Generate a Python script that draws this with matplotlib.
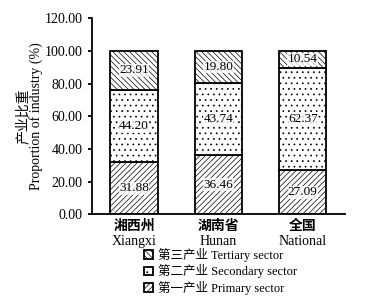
import matplotlib
matplotlib.use('Agg')
from matplotlib import pyplot as plt
from matplotlib.transforms import blended_transform_factory

regions_cn = ['湘西州', '湖南省', '全国']
regions_en = ['Xiangxi', 'Hunan', 'National']
primary = [31.88, 36.46, 27.09]
secondary = [44.20, 43.74, 62.37]
tertiary = [23.91, 19.80, 10.54]

sector_names = ['第三产业 Tertiary sector', '第二产业 Secondary sector', '第一产业 Primary sector']

plt.rcParams['font.family'] = ['Liberation Serif', 'Noto Sans CJK SC']
plt.rcParams['hatch.linewidth'] = 0.5
plt.rcParams['hatch.color'] = '#333333'

fig = plt.figure(figsize=(3.67, 3.02), dpi=100)
ax = fig.add_axes([0.25, 0.29, 0.69, 0.65])

x = list(range(len(regions_cn)))
w = 0.56
b1 = ax.bar(x, primary, w, color='white', edgecolor='black', hatch='//////', lw=1.3)
bottom2 = primary
b2 = ax.bar(x, secondary, w, bottom=bottom2, color='white', edgecolor='black', hatch='...', lw=1.3)
bottom3 = [p + s for p, s in zip(primary, secondary)]
b3 = ax.bar(x, tertiary, w, bottom=bottom3, color='white', edgecolor='black', hatch='\\\\\\\\\\\\', lw=1.3)

box = dict(facecolor='white', edgecolor='none', pad=0.3, alpha=0.8)
for i in x:
    ax.text(i, primary[i] / 2, f'{primary[i]:.2f}', ha='center', va='center', fontsize=9.5, bbox=box)
    ax.text(i, bottom2[i] + secondary[i] / 2, f'{secondary[i]:.2f}', ha='center', va='center', fontsize=9.5, bbox=box)
    ax.text(i, bottom3[i] + tertiary[i] / 2, f'{tertiary[i]:.2f}', ha='center', va='center', fontsize=9.5, bbox=box)

ax.set_ylim(0, 120)
ax.set_xlim(-0.5, 2.5)
ax.set_yticks([0, 20, 40, 60, 80, 100, 120])
ax.set_yticklabels([f'{v:.2f}' for v in [0, 20, 40, 60, 80, 100, 120]], fontsize=10)
ax.set_xticks(x)
ax.set_xticklabels(regions_cn, fontsize=10, fontweight='bold', family=['Noto Sans CJK SC'])
ax.tick_params(axis='x', length=0, pad=3.5)
ax.tick_params(axis='y', direction='out', length=3, width=1.3)
trans = blended_transform_factory(ax.transData, ax.transAxes)
for i in x:
    ax.annotate(regions_en[i], (i, 0), xycoords=trans, xytext=(0, -14.5), textcoords='offset points',
                ha='center', va='top', fontsize=10)
ax.spines['top'].set_visible(False)
ax.spines['right'].set_visible(False)
ax.spines['left'].set_linewidth(1.3)
ax.spines['bottom'].set_linewidth(1.3)
ax.set_ylabel('产业比重\nProportion of industry (%)', fontsize=10, linespacing=0.95, labelpad=1)

handles = [b3[0], b2[0], b1[0]]
fig.legend(handles, sector_names, loc='lower center', bbox_to_anchor=(0.6, -0.005), frameon=False,
           fontsize=9, handlelength=0.7, handleheight=0.7, handletextpad=0.4, labelspacing=0.2,
           borderpad=0.2)

fig.savefig('out.png', dpi=100)
